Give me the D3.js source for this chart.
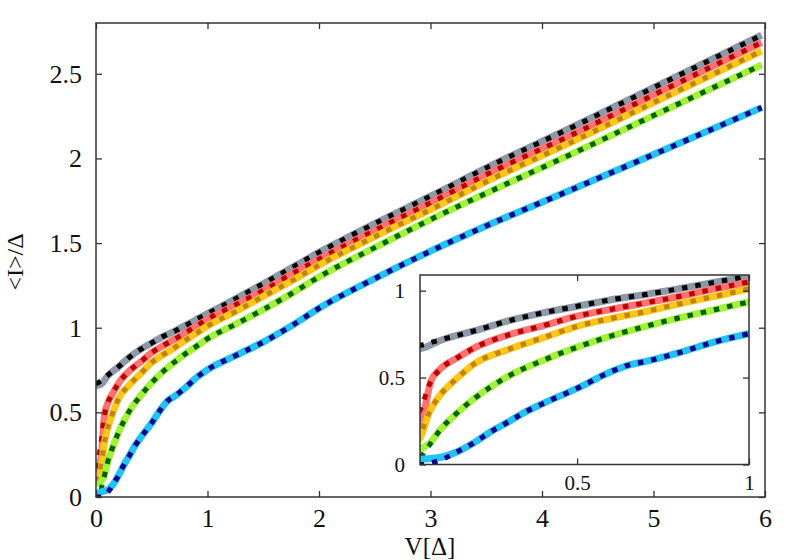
<!DOCTYPE html>
<html>
<head>
<meta charset="utf-8">
<script src="https://cdn.jsdelivr.net/npm/d3@7"></script>
<style>
body { margin: 0; background: #fff; }
svg { display: block; font-family: "Liberation Serif", "DejaVu Serif", serif; }
</style>
</head>
<body>
<div id="chart"></div>
<script>
// [V, <I>] pairs, one list per curve
var grayLine = [[0, 0.658], [0.05, 0.669], [0.1, 0.712], [0.2, 0.768], [0.3, 0.826], [0.4, 0.872],
    [0.5, 0.91], [0.6, 0.948], [0.7, 0.978], [0.8, 1.012], [0.9, 1.048], [1.0, 1.083], [1.25, 1.17],
    [1.5, 1.26], [1.75, 1.352], [2.0, 1.445], [2.5, 1.615], [3.0, 1.777], [3.6, 1.976], [4.2, 2.162],
    [5.0, 2.418], [5.97, 2.728]]
var redLine = [[0, 0.15], [0.045, 0.23], [0.075, 0.48], [0.1, 0.545], [0.15, 0.612], [0.2, 0.67],
    [0.3, 0.745], [0.4, 0.798], [0.5, 0.853], [0.6, 0.893], [0.7, 0.93], [0.8, 0.968], [0.9, 1.01],
    [1.0, 1.05], [1.25, 1.135], [1.5, 1.22], [1.75, 1.315], [2.0, 1.405], [2.5, 1.575], [3.0, 1.738],
    [3.6, 1.936], [4.2, 2.118], [5.0, 2.375], [5.97, 2.685]]
var goldLine = [[0, 0.08], [0.045, 0.16], [0.07, 0.3], [0.1, 0.395], [0.15, 0.495], [0.2, 0.578],
    [0.3, 0.662], [0.4, 0.728], [0.5, 0.795], [0.6, 0.84], [0.7, 0.88], [0.8, 0.925], [0.9, 0.967],
    [1.0, 1.01], [1.25, 1.095], [1.5, 1.185], [1.75, 1.275], [2.0, 1.37], [2.5, 1.538], [3.0, 1.698],
    [3.6, 1.895], [4.2, 2.077], [5.0, 2.33], [5.97, 2.635]]
var limeLine = [[0.02, 0.06], [0.05, 0.097], [0.07, 0.12], [0.1, 0.195], [0.15, 0.295], [0.2, 0.378],
    [0.25, 0.448], [0.3, 0.508], [0.4, 0.598], [0.5, 0.675], [0.6, 0.74], [0.7, 0.795], [0.8, 0.845],
    [0.9, 0.89], [1.0, 0.935], [1.25, 1.02], [1.5, 1.107], [1.75, 1.2], [2.0, 1.3], [2.5, 1.473],
    [3.0, 1.639], [3.6, 1.825], [4.2, 2.006], [5.0, 2.253], [5.97, 2.552]]
var cyanLine = [[0, 0.02], [0.05, 0.031], [0.1, 0.04], [0.15, 0.072], [0.2, 0.125], [0.25, 0.19],
    [0.3, 0.245], [0.35, 0.303], [0.4, 0.35], [0.5, 0.438], [0.6, 0.535], [0.65, 0.572], [0.7, 0.593],
    [0.8, 0.645], [0.9, 0.705], [1.0, 0.752], [1.25, 0.835], [1.5, 0.915], [1.75, 1.01], [2.0, 1.115],
    [2.5, 1.29], [3.0, 1.452], [3.6, 1.63], [4.2, 1.797], [5.0, 2.023], [5.97, 2.3]]

// the dotted curves start a little differently, then follow the solid ones
var blackHead = [[0, 0.668], [0.045, 0.686], [0.1, 0.716]]
var darkRedHead = [[0, 0.17], [0.045, 0.32], [0.075, 0.48]]
var ochreHead = [[0, 0.09], [0.045, 0.18], [0.07, 0.3]]
var darkGreenHead = [[0.045, 0.04], [0.07, 0.11]]
var navyHead = [[0, 0], [0.045, 0.0], [0.08, 0.012], [0.13, 0.05]]

var xTicks = [0, 1, 2, 3, 4, 5, 6],
    yTicks = [0, 0.5, 1, 1.5, 2, 2.5],
    insetXTicks = [0.5, 1],
    insetYTicks = [0, 0.5, 1]

var curves = [
    { solid: grayLine, head: blackHead, light: "#8d99a8", dark: "#000000" },
    { solid: redLine, head: darkRedHead, light: "#ff7272", dark: "#bb0000" },
    { solid: goldLine, head: ochreHead, light: "#ffc61a", dark: "#bf8512" },
    { solid: limeLine, head: darkGreenHead, light: "#a6f03c", dark: "#006400" },
    { solid: cyanLine, head: navyHead, light: "#22c2f2", dark: "#00008c" }
]
curves.forEach(function(c) {
    var last = c.head[c.head.length - 1][0]
    c.dotted = c.head.concat(c.solid.filter(d => d[0] > last))
})

var W = 800, H = 560,
    svg = d3.select("#chart").append("svg")
        .attr("width", W)
        .attr("height", H)

function panel(g, x, y, id) {
    var line = d3.line()
        .x(d => x(d[0]))
        .y(d => y(d[1]))
        .curve(d3.curveMonotoneX)
    var x0 = x.range()[0], x1 = x.range()[1], y0 = y.range()[1], y1 = y.range()[0]

    g.append("rect")
        .attr("x", x0).attr("y", y0)
        .attr("width", x1 - x0).attr("height", y1 - y0)
        .style("fill", "#fff")
    g.append("clipPath").attr("id", id)
        .append("rect")
        .attr("x", x0).attr("y", y0)
        .attr("width", x1 - x0).attr("height", y1 - y0)

    var lines = g.append("g").attr("clip-path", "url(#" + id + ")")
    curves.forEach(function(c) {
        lines.append("path")
            .datum(c.solid)
            .attr("d", line)
            .style("fill", "none")
            .style("stroke", c.light)
            .style("stroke-width", 7)
            .style("stroke-linejoin", "round")
        lines.append("path")
            .datum(c.dotted)
            .attr("d", line)
            .style("fill", "none")
            .style("stroke", c.dark)
            .style("stroke-width", 5)
            .style("stroke-dasharray", "5.5,8")
    })

    g.append("rect")
        .attr("x", x0).attr("y", y0)
        .attr("width", x1 - x0).attr("height", y1 - y0)
        .style("fill", "none")
        .style("stroke", "#333")
        .style("stroke-width", 1.5)
}

function ticks(g, x, y, xt, yt, fs, xPad, yPad) {
    var fmt = d => String(d)
    var x0 = x.range()[0], x1 = x.range()[1], y0 = y.range()[1], y1 = y.range()[0]
    var axes = [
        g.append("g").attr("transform", "translate(0," + y1 + ")")
            .call(d3.axisBottom(x).tickValues(xt).tickSize(-6).tickPadding(xPad).tickFormat(fmt)),
        g.append("g").attr("transform", "translate(0," + y0 + ")")
            .call(d3.axisTop(x).tickValues(xt).tickSize(-6).tickFormat("")),
        g.append("g").attr("transform", "translate(" + x0 + ",0)")
            .call(d3.axisLeft(y).tickValues(yt).tickSize(-6).tickPadding(yPad).tickFormat(fmt)),
        g.append("g").attr("transform", "translate(" + x1 + ",0)")
            .call(d3.axisRight(y).tickValues(yt).tickSize(-6).tickFormat(""))
    ]
    axes.forEach(function(a) {
        a.select(".domain").remove()
        a.selectAll("line").style("stroke", "#333").style("stroke-width", 1.3)
        a.selectAll("text")
            .style("font-family", "'Liberation Serif', serif")
            .style("font-size", fs + "px")
            .style("fill", "#111")
    })
}

// main plot
var x = d3.scaleLinear().domain([0, 6]).range([96, 765]),
    y = d3.scaleLinear().domain([0, 2.8]).range([497, 23])
var main = svg.append("g")
panel(main, x, y, "clipMain")
ticks(main, x, y, xTicks, yTicks, 26, 12, 14)

svg.append("text")
    .attr("x", 430).attr("y", 555)
    .attr("text-anchor", "middle")
    .style("font-size", "25px")
    .style("fill", "#111")
    .text("V[Δ]")
svg.append("text")
    .attr("transform", "translate(23,262) rotate(-90)")
    .attr("text-anchor", "middle")
    .style("font-size", "24px")
    .style("fill", "#111")
    .text("<I>/Δ")

// inset: zoom on the low-bias part
var ix = d3.scaleLinear().domain([0.043, 1]).range([420, 749]),
    iy = d3.scaleLinear().domain([0, 1.09]).range([464.5, 275])
var inset = svg.append("g")
panel(inset, ix, iy, "clipInset")
ticks(inset, ix, iy, insetXTicks, insetYTicks, 21, 11, 15)
</script>
</body>
</html>
